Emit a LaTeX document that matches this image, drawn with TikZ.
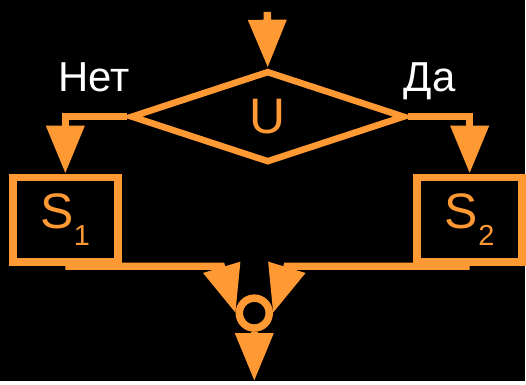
\documentclass[tikz,border=0pt]{standalone}
\usepackage{fontspec}
\setmainfont{Liberation Sans}
\usetikzlibrary{arrows.meta,shapes.geometric}
\definecolor{flow}{RGB}{255,153,51}

\begin{document}
\begin{tikzpicture}[x=1pt,y=-1pt,line width=7.5pt,flow,
	big/.style={font=\fontsize{50}{60}\selectfont},
	lbl/.style={white,anchor=base,font=\fontsize{42}{50}\selectfont},
	box/.style={draw,rectangle,line width=8pt,minimum width=105pt,minimum height=85pt,inner sep=0pt,big},
	tip/.style={-{Triangle[length=48pt,width=37pt]}}]
	\fill[black] (0,0) rectangle (526,382);

	\node[draw,diamond,minimum width=275pt,minimum height=92pt,inner sep=0pt,line width=6.5pt,big] (U) at (268.5,117) {U};
	\node[box] (s1) at (65.5,220.5) {S\raisebox{-17pt}{\fontsize{29}{30}\selectfont 1}};
	\node[box] (s2) at (471,220.5) {S\raisebox{-17pt}{\fontsize{29}{30}\selectfont 2}};
	\node[draw,circle,minimum size=30pt,inner sep=0pt] (c) at (255,314) {};

	\node[lbl] (no) at (94,92) {Нет};
	\node[lbl] (yes) at (431,92) {Да};

	\coordinate (in) at (268,12);
	\coordinate (out) at (255,382);
	\coordinate (jl) at (222,267);
	\coordinate (jr) at (288,267);

	\draw[tip] (in) -- (U.north);
	\draw[tip] (U.west) -| (s1.north);
	\draw[tip] (U.east) -| (s2.north);
	\draw[tip] (s1.south) -- (jl) -- (c.west);
	\draw[tip] (s2.south) -- (jr) -- (c.east);
	\draw[tip] (c.south) -- (out);
\end{tikzpicture}
\end{document}
